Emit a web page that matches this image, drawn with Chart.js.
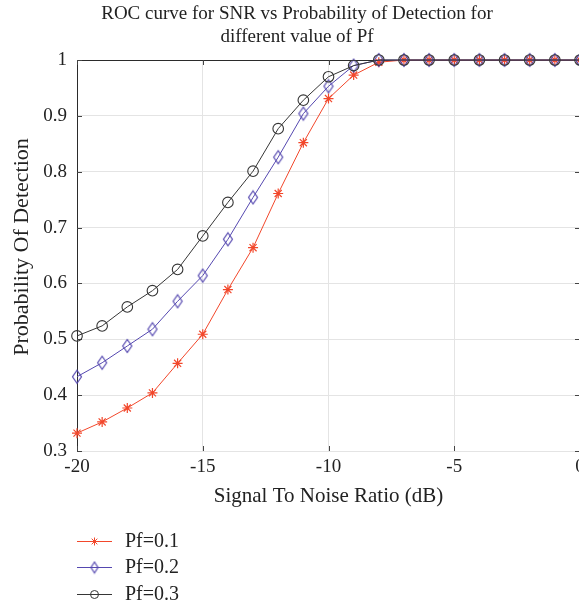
<!DOCTYPE html>
<html>
<head>
<meta charset="utf-8">
<script src="https://cdn.jsdelivr.net/npm/chart.js@4.4.0/dist/chart.umd.min.js"></script>
<style>
html,body{margin:0;padding:0;overflow:hidden;background:#fff;width:579px;height:604px;}
#wrap{position:relative;width:620px;height:604px;}
</style>
</head>
<body>
<div id="wrap"><canvas id="c" width="620" height="604"></canvas></div>
<script>
// ---- data ----
const snr = [-20,-19,-18,-17,-16,-15,-14,-13,-12,-11,-10,-9,-8,-7,-6,-5,-4,-3,-2,-1,0];
const pf01 = [0.332,0.352,0.377,0.404,0.457,0.509,0.589,0.664,0.761,0.852,0.931,0.973,0.996,1,1,1,1,1,1,1,1];
const pf02 = [0.433,0.458,0.488,0.518,0.568,0.614,0.679,0.754,0.826,0.904,0.953,0.990,1,1,1,1,1,1,1,1,1];
const pf03 = [0.506,0.524,0.558,0.587,0.625,0.685,0.745,0.801,0.877,0.928,0.970,0.990,1,1,1,1,1,1,1,1,1];
const seriesNames = ['Pf=0.1','Pf=0.2','Pf=0.3'];
const xTicks = [-20,-15,-10,-5,0];
const xTickLabels = ['-20','-15','-10','-5','0'];
const yTicks = [0.3,0.4,0.5,0.6,0.7,0.8,0.9,1];
const yTickLabels = ['0.3','0.4','0.5','0.6','0.7','0.8','0.9','1'];
const titleLines = ['ROC curve for SNR vs Probability of Detection for','different value of Pf'];
const xTitle = 'Signal To Noise Ratio (dB)';
const yTitle = 'Probability Of Detection';

const RED = '#f2472b', BLUE = '#5548b0', BLACK = '#363636';
const FONT = '"Liberation Serif", "DejaVu Serif", serif';

function diamondCanvas(w, h, color, lw){
  const c = document.createElement('canvas');
  c.width = w + 3; c.height = h + 3;
  const g = c.getContext('2d');
  g.strokeStyle = color; g.lineWidth = lw;
  const cx = c.width/2, cy = c.height/2;
  g.beginPath();
  g.moveTo(cx, cy - h/2); g.lineTo(cx + w/2, cy); g.lineTo(cx, cy + h/2); g.lineTo(cx - w/2, cy); g.closePath();
  g.stroke();
  return c;
}
const diamond = diamondCanvas(9, 13, BLUE, 1.2);
const diamondSmall = diamondCanvas(7, 11, BLUE, 1.2);

function pts(arr){ return snr.map((x,i)=>({x:x, y:arr[i]})); }

const frame = {
  id:'frame',
  beforeDatasetsDraw(chart){
    const {ctx, chartArea:a} = chart;
    ctx.save();
    ctx.strokeStyle = '#2b2b2b'; ctx.lineWidth = 1;
    ctx.beginPath(); ctx.moveTo(a.left, a.top+0.5); ctx.lineTo(a.right, a.top+0.5); ctx.stroke();
    ctx.beginPath(); ctx.moveTo(a.right+0.5, a.top); ctx.lineTo(a.right+0.5, a.bottom); ctx.stroke();
    const xs = chart.scales.x, ys = chart.scales.y;
    ctx.strokeStyle = '#444';
    xTicks.forEach(v=>{
      const px = Math.round(xs.getPixelForValue(v))+0.5;
      ctx.beginPath(); ctx.moveTo(px, a.bottom); ctx.lineTo(px, a.bottom-5); ctx.stroke();
      ctx.beginPath(); ctx.moveTo(px, a.top); ctx.lineTo(px, a.top+5); ctx.stroke();
    });
    yTicks.forEach(v=>{
      const py = Math.round(ys.getPixelForValue(v))+0.5;
      ctx.beginPath(); ctx.moveTo(a.left, py); ctx.lineTo(a.left+5, py); ctx.stroke();
      ctx.beginPath(); ctx.moveTo(a.right, py); ctx.lineTo(a.right-5, py); ctx.stroke();
    });
    ctx.restore();
  },
  afterDraw(chart){
    const ctx = chart.ctx;
    ctx.save();
    ctx.fillStyle = '#222';
    ctx.font = '19px ' + FONT;
    ctx.textAlign = 'center'; ctx.textBaseline = 'middle';
    titleLines.forEach((t,i)=> ctx.fillText(t, 297, 14 + i*23));
    // y axis title
    ctx.save();
    ctx.translate(22, 247);
    ctx.rotate(-Math.PI/2);
    ctx.font = '22px ' + FONT;
    ctx.fillText(yTitle, 0, 0);
    ctx.restore();
    // legend
    const rows = [541, 567, 594];
    const ds = chart.data.datasets;
    ctx.textAlign = 'left';
    ctx.font = '20px ' + FONT;
    ds.forEach((d,i)=>{
      const y = rows[i];
      ctx.strokeStyle = d.borderColor; ctx.lineWidth = 1;
      ctx.beginPath(); ctx.moveTo(77, y+0.5); ctx.lineTo(112, y+0.5); ctx.stroke();
      const cx = 94.5;
      if (i === 0){
        const r = 4;
        ctx.beginPath();
        for (let k=0;k<4;k++){
          const ang = k*Math.PI/4;
          ctx.moveTo(cx - r*Math.cos(ang), y + 0.5 - r*Math.sin(ang));
          ctx.lineTo(cx + r*Math.cos(ang), y + 0.5 + r*Math.sin(ang));
        }
        ctx.stroke();
      } else if (i === 1){
        ctx.drawImage(diamondSmall, cx - diamondSmall.width/2, y - diamondSmall.height/2 + 0.5);
      } else {
        ctx.beginPath(); ctx.arc(cx, y+0.5, 4, 0, Math.PI*2); ctx.stroke();
      }
      ctx.fillStyle = '#222';
      ctx.fillText(seriesNames[i], 125, y + 1);
    });
    ctx.restore();
  }
};

new Chart(document.getElementById('c'), {
  type:'line',
  data:{
    datasets:[
      {label:seriesNames[0], data:pts(pf01), borderColor:RED, backgroundColor:'rgba(0,0,0,0)', borderWidth:1,
       pointStyle:'star', pointRadius:5, pointBorderColor:RED, pointBorderWidth:1.2, tension:0, clip:false, order:2},
      {label:seriesNames[1], data:pts(pf02), borderColor:BLUE, backgroundColor:'rgba(0,0,0,0)', borderWidth:1,
       pointStyle:diamond, pointRadius:6, tension:0, clip:false, order:1},
      {label:seriesNames[2], data:pts(pf03), borderColor:BLACK, backgroundColor:'rgba(0,0,0,0)', borderWidth:1,
       pointStyle:'circle', pointRadius:5.3, pointBorderColor:BLACK, pointBackgroundColor:'rgba(0,0,0,0)', pointBorderWidth:1.1, tension:0, clip:false, order:0}
    ]
  },
  options:{
    responsive:false,
    animation:false,
    events:[],
    layout:{padding:{left:0, right:40, top:60, bottom:95}},
    plugins:{legend:{display:false}, title:{display:false}, tooltip:{enabled:false}},
    scales:{
      x:{
        type:'linear', min:-20, max:0,
        afterBuildTicks(s){ s.ticks = xTicks.map(v=>({value:v})); },
        afterFit(s){ s.height = 58; },
        ticks:{ callback:(v)=> xTickLabels[xTicks.indexOf(v)], color:'#222', font:{family:FONT, size:19}, padding:5, maxRotation:0, autoSkip:false },
        grid:{ color:'#e4e4e4', drawTicks:false, lineWidth:1 },
        border:{ display:true, color:'#e4e4e4' },
        title:{ display:true, text:xTitle, color:'#222', font:{family:FONT, size:21, lineHeight:1}, padding:{top:0,bottom:2} }
      },
      y:{
        type:'linear', min:0.3, max:1,
        afterBuildTicks(s){ s.ticks = yTicks.map(v=>({value:v})); },
        afterFit(s){ s.width = 77; },
        ticks:{ callback:(v)=> yTickLabels[yTicks.findIndex(t=>Math.abs(t-v)<1e-9)], color:'#222', font:{family:FONT, size:19}, padding:10, autoSkip:false },
        grid:{ color:'#e4e4e4', drawTicks:false, lineWidth:1 },
        border:{ display:true, color:'#2b2b2b' },
        title:{ display:false }
      }
    }
  },
  plugins:[frame]
});
</script>
</body>
</html>
